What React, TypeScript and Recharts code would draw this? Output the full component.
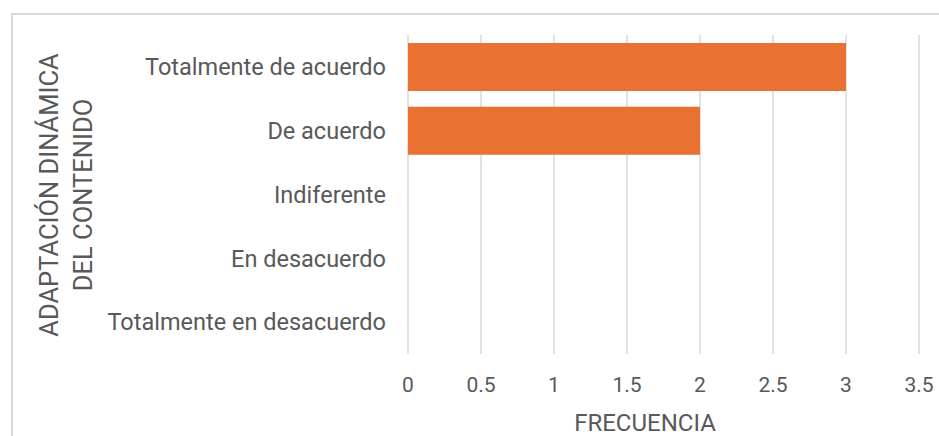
import { BarChart, Bar, XAxis, YAxis, CartesianGrid } from 'recharts';

const categories = [
  'Totalmente de acuerdo',
  'De acuerdo',
  'Indiferente',
  'En desacuerdo',
  'Totalmente en desacuerdo',
];
const frecuencia = [3, 2, 0, 0, 0];
const xTicks = [0, 0.5, 1, 1.5, 2, 2.5, 3, 3.5];

const yTitleLines = ['ADAPTACIÓN DINÁMICA', 'DEL CONTENIDO'];
const xTitle = 'FRECUENCIA';

const TEXT = '#595959';
const GRID = '#d9d9d9';
const BAR = '#E97132';
const FONT = 'Roboto, "Open Sans", sans-serif';

const data = categories.map((name, i) => ({ name, value: frecuencia[i] }));

export default function App() {
  return (
    <div style={{ position: 'absolute', left: 0, top: 0, width: 939, height: 436, background: '#fff', overflow: 'hidden', fontFamily: FONT }}>
      <div style={{ position: 'absolute', left: 11, top: 13, width: 960, height: 460, border: `2px solid ${GRID}` }} />
      <div style={{ position: 'absolute', left: 0, top: 0 }}>
        <BarChart
          width={939}
          height={436}
          data={data}
          layout="vertical"
          margin={{ top: 35, right: 20, bottom: 0, left: 0 }}
          barCategoryGap="12.5%"
        >
          <CartesianGrid horizontal={false} stroke={GRID} strokeWidth={1.5} />
          <XAxis
            type="number"
            domain={[0, 3.5]}
            ticks={xTicks}
            height={82}
            axisLine={false}
            tickLine={false}
            tickSize={0}
            tickMargin={23}
            interval={0}
            tick={{ fill: TEXT, fontSize: 21, fontFamily: FONT }}
            label={{
              content: () => (
                <text x={645} y={423} textAnchor="middle" dominantBaseline="central" fill={TEXT} fontSize={24} fontFamily={FONT}>
                  {xTitle}
                </text>
              ),
            }}
          />
          <YAxis
            type="category"
            dataKey="name"
            width={408}
            axisLine={false}
            tickLine={false}
            tickSize={0}
            tickMargin={22}
            interval={0}
            tick={{ fill: TEXT, fontSize: 23.5, fontFamily: FONT }}
            label={{
              content: () => (
                <g>
                  {yTitleLines.map((line, i) => (
                    <text
                      key={line}
                      x={0}
                      y={0}
                      transform={`translate(${49 + i * 34}, 195) rotate(-90)`}
                      textAnchor="middle"
                      dominantBaseline="central"
                      fill={TEXT}
                      fontSize={25.5}
                      fontFamily={FONT}
                    >
                      {line}
                    </text>
                  ))}
                </g>
              ),
            }}
          />
          <Bar dataKey="value" fill={BAR} isAnimationActive={false} />
        </BarChart>
      </div>
    </div>
  );
}
